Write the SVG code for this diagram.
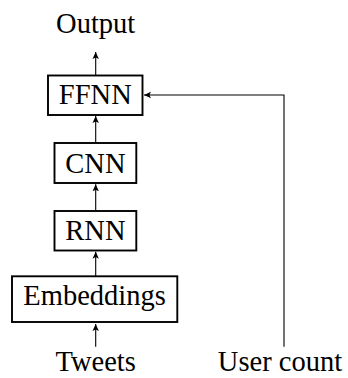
<svg xmlns="http://www.w3.org/2000/svg" width="348" height="378" viewBox="0 0 348 378" font-family="Liberation Serif" font-size="28.5">
<style>
text{fill:#000;text-anchor:middle}
.box{fill:#fff;stroke:#000;stroke-width:1.9}
.c{fill:none;stroke:#000;stroke-width:1.1}
</style>
<defs>
<marker id="a" markerWidth="8" markerHeight="8" refX="7" refY="4" orient="auto" markerUnits="userSpaceOnUse">
<path d="M0,0.8 L7,4 L0,7.2 L1.6,4 Z" fill="#000"/>
</marker>
</defs>
<rect width="348" height="378" fill="#fff"/>
<g id="connectors">
<path class="c" d="M95.7,75 V52" marker-end="url(#a)"/>
<path class="c" d="M95.7,142.7 V116" marker-end="url(#a)"/>
<path class="c" d="M95.7,210.7 V184.3" marker-end="url(#a)"/>
<path class="c" d="M95.7,276 V251.7" marker-end="url(#a)"/>
<path class="c" d="M95.7,346.7 V324" marker-end="url(#a)"/>
<path class="c" d="M284,346.7 V95 H144" marker-end="url(#a)"/>
</g>
<g id="output"><text x="95.7" y="33.3">Output</text></g>
<g id="ffnn"><rect class="box" x="48" y="75.5" width="94.5" height="39.5"/><text x="95.3" y="104.3">FFNN</text></g>
<g id="cnn"><rect class="box" x="54.5" y="143" width="81.8" height="40"/><text x="95.4" y="172.7">CNN</text></g>
<g id="rnn"><rect class="box" x="54.5" y="211" width="81.8" height="39.5"/><text x="95.4" y="240">RNN</text></g>
<g id="embeddings"><rect class="box" x="12" y="276.3" width="165.3" height="45.7"/><text x="94.6" y="305">Embeddings</text></g>
<g id="tweets"><text x="95.7" y="370.5">Tweets</text></g>
<g id="usercount"><text x="280" y="370.5">User count</text></g>
</svg>
